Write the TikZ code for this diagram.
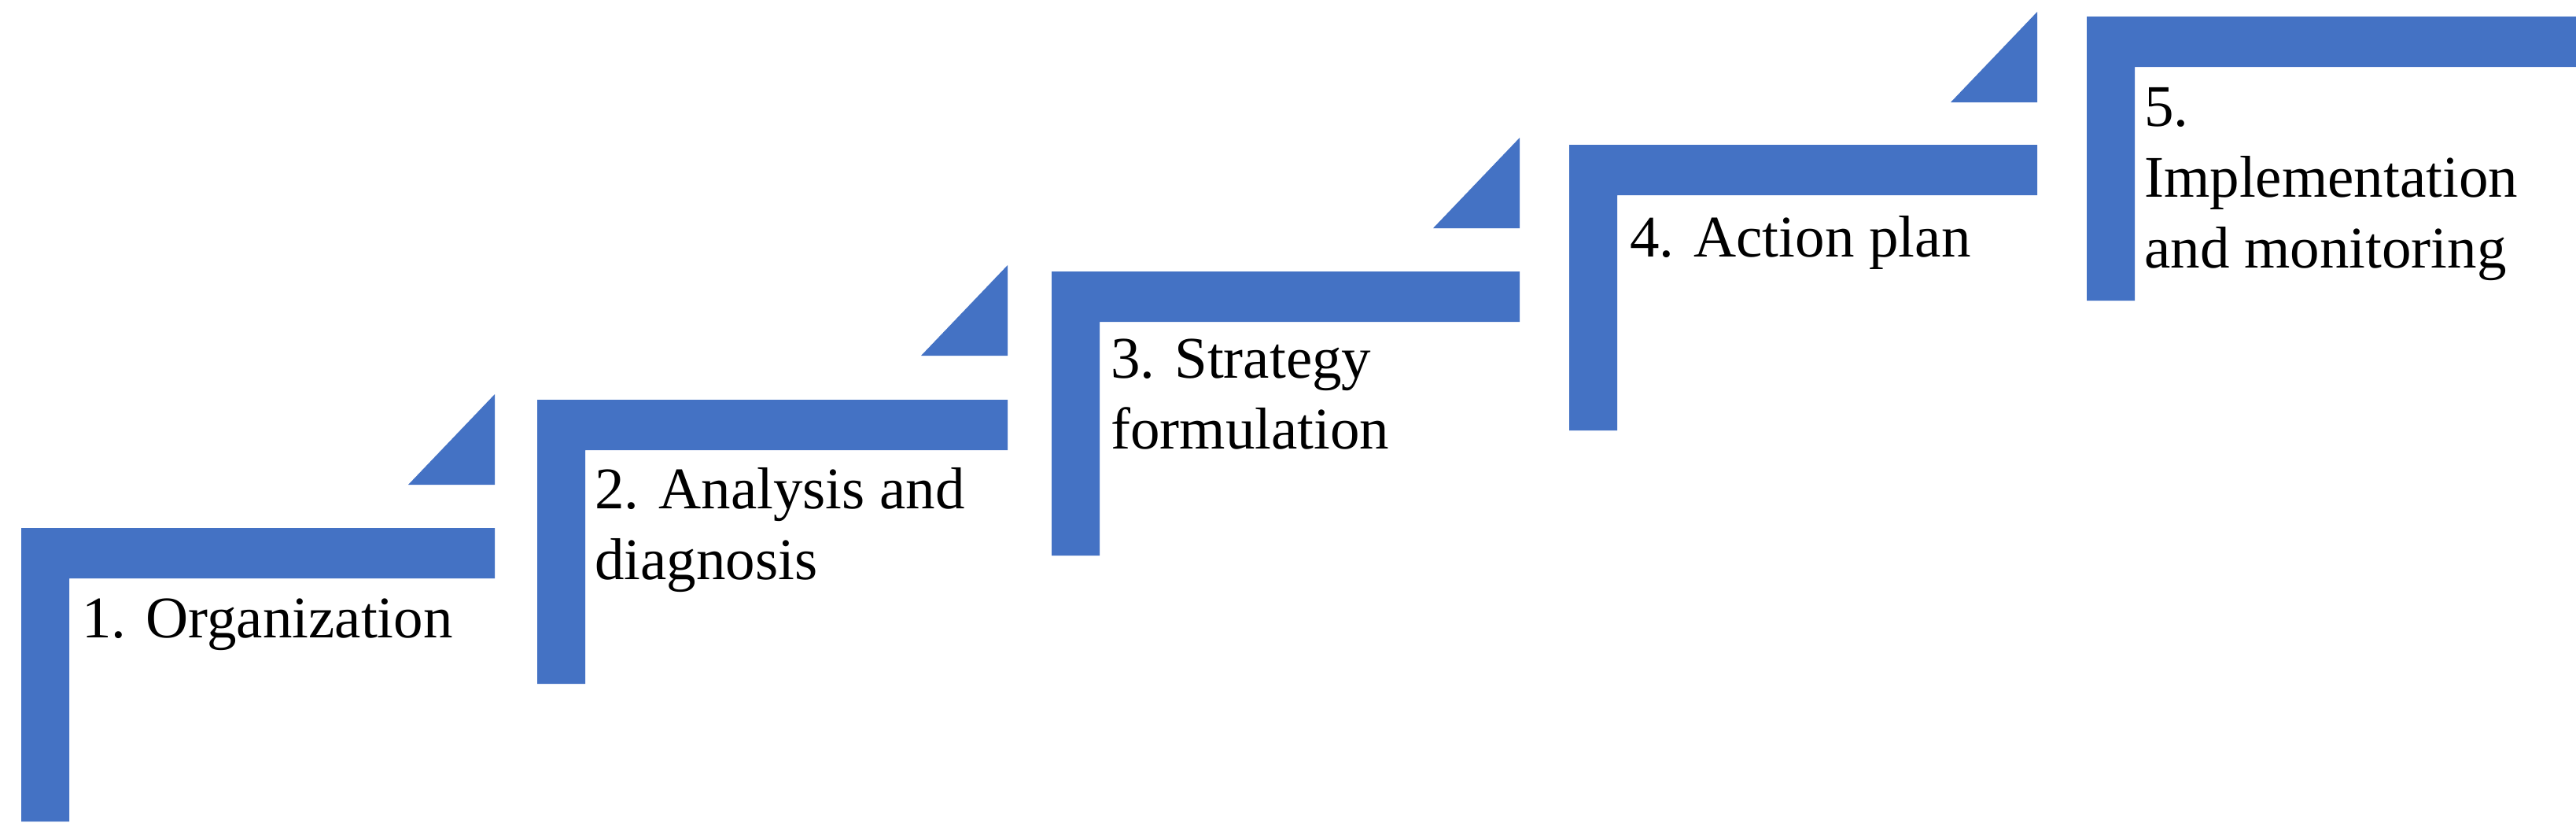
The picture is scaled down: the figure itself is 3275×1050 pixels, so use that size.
\documentclass[tikz,border=0pt]{standalone}
\usepackage{fontspec}
\setmainfont{Liberation Serif}
\definecolor{stepblue}{HTML}{4472C4}
\begin{document}
\begin{tikzpicture}[x=1pt,y=-1pt,
  stepfill/.style={fill=stepblue,draw=none},
  lbl/.style={anchor=base west,align=left,inner sep=0pt,font=\fontsize{75}{90}\selectfont}]
\useasboundingbox (0,0) rectangle (3275,1050);
% steps: left x, top y, right x, bottom y
\foreach \l/\t/\r/\b [count=\i] in {27/671/629/1044, 683/508/1281/869, 1337/345/1932/706, 1995/184/2590/547, 2653/21/3275/382}{
  \fill[stepfill] (\l,\t) -- (\r,\t) -- (\r,\t+64) -- (\l+61,\t+64) -- (\l+61,\b) -- (\l,\b) -- cycle;
}
% triangles
\foreach \r/\b in {629/616, 1281/452, 1932/290, 2590/130}{
  \fill[stepfill] (\r,\b) -- (\r-110,\b) -- (\r,\b-115) -- cycle;
}
\node[lbl] (s1) at (104,810) {1. Organization};
\node[lbl] (s2) at (756,736) {2. Analysis and\\diagnosis};
\node[lbl] (s3) at (1412,570) {3. Strategy\\formulation};
\node[lbl] (s4) at (2072,326) {4. Action plan};
\node[lbl] (s5) at (2726,340) {5.\\Implementation\\and monitoring};
\end{tikzpicture}
\end{document}
